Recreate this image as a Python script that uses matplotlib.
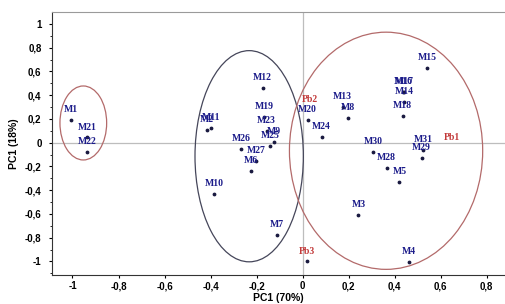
import numpy as np
import matplotlib
matplotlib.use("Agg")
import matplotlib.pyplot as plt
from matplotlib.patches import Ellipse
from matplotlib.ticker import FixedLocator, FuncFormatter

# Muestras (M) y puntos Pb
nombres = ["M1", "M21", "M22", "M12", "M19", "M23", "M9", "M25", "M26", "M27",
           "M6", "M11", "M2", "M10", "M7", "M20", "M24", "M15", "M16", "M17",
           "M14", "M18", "M13", "M8", "M30", "M28", "M5", "M31", "M29", "M3", "M4"]
pc1 = [-1.007, -0.937, -0.936, -0.173, -0.166, -0.156, -0.123, -0.141, -0.267, -0.202,
       -0.225, -0.398, -0.414, -0.383, -0.110, 0.022, 0.083, 0.543, 0.438, 0.442,
       0.441, 0.436, 0.175, 0.199, 0.308, 0.366, 0.421, 0.523, 0.518, 0.243, 0.464]
pc2 = [0.19, 0.044, -0.076, 0.458, 0.215, 0.097, 0.008, -0.025, -0.056, -0.15,
       -0.236, 0.126, 0.107, -0.432, -0.778, 0.195, 0.05, 0.627, 0.425, 0.43,
       0.341, 0.225, 0.299, 0.211, -0.076, -0.211, -0.329, -0.061, -0.126, -0.609, -1.008]

pb_nombres = ["Pb1", "Pb2", "Pb3"]
pb_pc1 = [0.649, 0.03, 0.021]
pb_pc2 = [-0.046, 0.277, -1.0]

# Elipses de grupos: centro x, centro y, ancho, alto
grupos_cx = [-0.953, -0.232, 0.363]
grupos_cy = [0.166, -0.114, -0.068]
grupos_w = [0.203, 0.471, 0.840]
grupos_h = [0.623, 1.778, 1.997]
grupos_color = ["#b36a6a", "#45465a", "#b36a6a"]

fig = plt.figure(figsize=(5.05, 3.04), dpi=100)
ax = fig.add_axes([0.103, 0.095, 0.897, 0.865])

ax.axhline(0, color="#bdbdbd", lw=0.9, zorder=0)
ax.axvline(0, color="#bdbdbd", lw=0.9, zorder=0)

for cx, cy, w, h, c in zip(grupos_cx, grupos_cy, grupos_w, grupos_h, grupos_color):
    ax.add_patch(Ellipse((cx, cy), w, h, fill=False, edgecolor=c, lw=0.9))

ax.scatter(pc1, pc2, s=3, color="#1a1a40", zorder=3)
ax.scatter(pb_pc1[2:], pb_pc2[2:], s=3, color="#1a1a40", zorder=3)

fuente = dict(family="Liberation Serif", fontweight="bold", fontsize=7)
for n, x, y in zip(nombres, pc1, pc2):
    ax.annotate(n, (x, y), xytext=(0, 7.5), textcoords="offset points",
                ha="center", va="center", color="#1c1c8a", **fuente)
for n, x, y in zip(pb_nombres, pb_pc1, pb_pc2):
    ax.annotate(n, (x, y), xytext=(0, 7.5), textcoords="offset points",
                ha="center", va="center", color="#c23a3a", **fuente)

ax.set_xlim(-1.089, 0.88)
ax.set_ylim(-1.115, 1.099)

coma = FuncFormatter(lambda v, p: ("%g" % round(v, 2)).replace(".", ","))
ax.xaxis.set_major_locator(FixedLocator([-1, -0.8, -0.6, -0.4, -0.2, 0, 0.2, 0.4, 0.6, 0.8]))
ax.yaxis.set_major_locator(FixedLocator([-1, -0.8, -0.6, -0.4, -0.2, 0, 0.2, 0.4, 0.6, 0.8, 1]))
ax.xaxis.set_major_formatter(coma)
ax.yaxis.set_major_formatter(coma)
ax.yaxis.set_minor_locator(FixedLocator(np.arange(-1.1, 1.1, 0.1)))
ax.tick_params(axis="both", labelsize=7, length=2.5, width=0.8)
ax.tick_params(axis="x", pad=2)
ax.tick_params(axis="y", pad=5)
ax.tick_params(axis="y", which="minor", length=1.5)
for lab in ax.get_xticklabels() + ax.get_yticklabels():
    lab.set_fontweight("bold")
    lab.set_family("Liberation Sans")

ax.spines["right"].set_visible(False)
ax.spines["top"].set_color("#9a9a9a")
ax.spines["left"].set_color("#333333")
ax.spines["bottom"].set_color("#333333")

ax.set_xlabel("PC1 (70%)", fontsize=7.5, fontweight="bold", family="Liberation Sans", labelpad=1)
ax.set_ylabel("PC1 (18%)", fontsize=7.5, fontweight="bold", family="Liberation Sans", labelpad=4)

fig.savefig("out.png", dpi=100)
